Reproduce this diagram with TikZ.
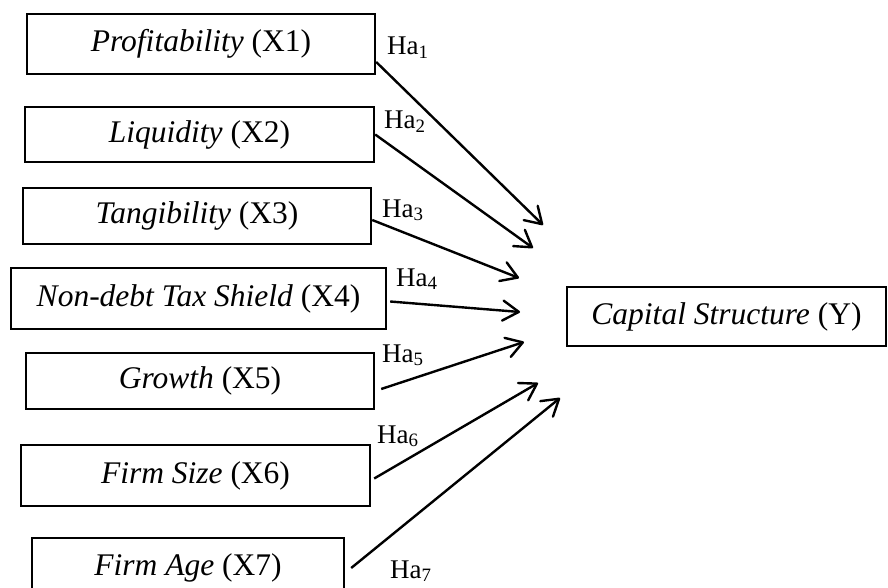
\documentclass[tikz,border=0pt]{standalone}
\usepackage{fontspec}
\setmainfont{Liberation Serif}
\usetikzlibrary{arrows.meta}

\tikzset{
    varbox/.style={draw, line width=2.4pt, inner sep=0pt, minimum width=348pt, minimum height=57pt, font=\fontsize{31.5}{36}\selectfont},
    halabel/.style={anchor=base west, inner sep=0pt, font=\fontsize{27}{30}\selectfont},
}

\begin{document}
\begin{tikzpicture}[x=1pt, y=-1pt, >={Straight Barb[length=16pt,width=20pt,round]}, line width=2.4pt]
        \clip (0,0) rectangle (888,588);    % 画布大小 888x588

        \node[varbox, minimum height=60pt] (x1) at (201,44) {\textit{Profitability} (X1)};
        \node[varbox, minimum width=349pt, minimum height=55pt] (x2) at (199.5,134.5) {\textit{Liquidity} (X2)};
        \node[varbox, minimum height=56pt] (x3) at (197,216) {\textit{Tangibility} (X3)};
        \node[varbox, minimum width=375pt, minimum height=61pt] (x4) at (198.5,298.5) {\textit{Non-debt Tax Shield} (X4)};
        \node[varbox, minimum height=56pt] (x5) at (200,381) {\textit{Growth} (X5)};
        \node[varbox, minimum width=349pt, minimum height=61pt] (x6) at (195.5,475.5) {\textit{Firm Size} (X6)};
        \node[varbox, minimum width=312pt, minimum height=60pt] (x7) at (188,568) {\textit{Firm Age} (X7)};    % 下边被裁掉

        \node[varbox, minimum width=319pt, minimum height=59pt] (y) at (726.5,316.5) {\textit{Capital Structure} (Y)};

        % 箭头终点
        \coordinate (t1) at (543,225);
        \coordinate (t2) at (533,248);
        \coordinate (t3) at (519,278);
        \coordinate (t4) at (520,312);
        \coordinate (t5) at (524,342);
        \coordinate (t6) at (538,383);
        \coordinate (t7) at (560,398);

        \draw[->] ([yshift=-18pt]x1.east)--(t1);
        \draw[->] (x2.east)--(t2);
        \draw[->] ([yshift=-4pt]x3.east)--(t3);
        \draw[->] ([xshift=3pt,yshift=-3pt]x4.east)--(t4);
        \draw[->] ([xshift=6pt,yshift=-8pt]x5.east)--(t5);
        \draw[->] ([xshift=3pt,yshift=-3pt]x6.east)--(t6);
        \draw[->] ([xshift=6pt]x7.east)--(t7);

        % 假设 Ha1 ... Ha7
        \node[halabel] (ha1) at (386,55) {Ha\textsubscript{1}};
        \node[halabel] (ha2) at (383,129) {Ha\textsubscript{2}};
        \node[halabel] (ha3) at (381,217) {Ha\textsubscript{3}};
        \node[halabel] (ha4) at (395,286) {Ha\textsubscript{4}};
        \node[halabel] (ha5) at (381,362) {Ha\textsubscript{5}};
        \node[halabel] (ha6) at (376,443) {Ha\textsubscript{6}};
        \node[halabel] (ha7) at (389,578) {Ha\textsubscript{7}};

        % \draw[dashed] (y.west)--(t4);
    \end{tikzpicture}
\end{document}
